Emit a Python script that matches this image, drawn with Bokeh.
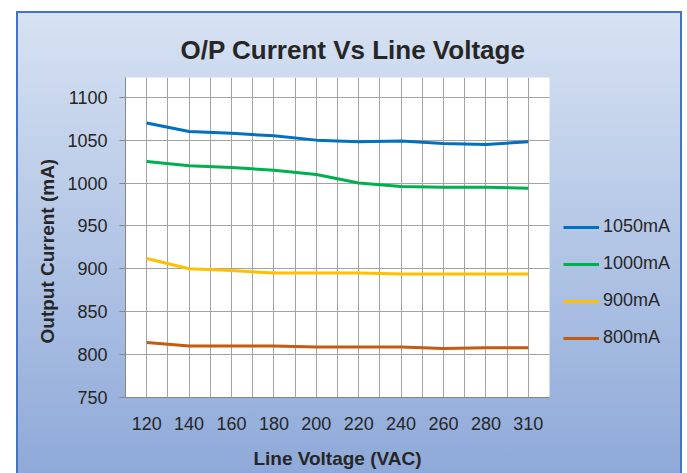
from bokeh.plotting import figure
from bokeh.models import (FactorRange, Range1d, Legend, LegendItem, FixedTicker,
                          Title, InlineStyleSheet)
from bokeh.embed import file_html
from bokeh.resources import INLINE

# ---- data ----
voltages = ["120", "140", "160", "180", "200", "220", "240", "260", "280", "310"]
i_1050 = [1070, 1060, 1058, 1055, 1050, 1048, 1049, 1046, 1045, 1048]
i_1000 = [1025, 1020, 1018, 1015, 1010, 1000, 996, 995, 995, 994]
i_900 = [912, 900, 898, 895, 895, 895, 894, 894, 894, 894]
i_800 = [814, 810, 810, 810, 809, 809, 809, 807, 808, 808]
series_names = ["1050mA", "1000mA", "900mA", "800mA"]
series_values = [i_1050, i_1000, i_900, i_800]
series_colors = ["#0070C0", "#00B050", "#FFC000", "#C55A11"]
y_ticks = [750, 800, 850, 900, 950, 1000, 1050, 1100]

FONT = "Liberation Sans"
TXT = "#262626"

p = figure(frame_width=424, frame_height=320,
           x_range=FactorRange(factors=voltages, range_padding=0),
           y_range=Range1d(750, 1123),
           output_backend="svg", toolbar_location=None,
           min_border_left=125, min_border_right=138,
           min_border_top=77, min_border_bottom=76)
p.border_fill_color = None
p.background_fill_color = "white"
p.outline_line_color = None

# gradient chart area with blue border, drawn as page decoration behind the canvas
css = """
:host {
  background-color: white;
  background-image: linear-gradient(to bottom, #d7e2f2, #8da8d8),
                    linear-gradient(#4472c4, #4472c4);
  background-repeat: no-repeat;
  background-position: 18px 13px, 16px 11px;
  background-size: 662px 470px, 666px 480px;
}
"""
p.stylesheets = [InlineStyleSheet(css=css)]

# ---- grids ----
p.xgrid.ticker = FixedTicker(ticks=[k * 0.5 for k in range(2 * len(voltages) + 1)])
p.ygrid.ticker = FixedTicker(ticks=y_ticks)
for g in (p.xgrid, p.ygrid):
    g.grid_line_color = "#a3a3a3"
    g.grid_line_width = 1

# ---- series ----
items = []
for name, vals, col in zip(series_names, series_values, series_colors):
    r = p.line(x=voltages, y=vals, line_color=col, line_width=3, line_join="round")
    items.append(LegendItem(label=name, renderers=[r]))

legend = Legend(items=items, location="top_left", orientation="vertical",
                background_fill_alpha=0, border_line_color=None,
                padding=0, margin=14, spacing=16,
                glyph_width=36, glyph_height=20, label_height=20, label_standoff=4,
                label_text_font=FONT, label_text_font_size="18px",
                label_text_color=TXT,
                title=" ", title_text_font_size="1px", title_standoff=124)
p.add_layout(legend, "right")

# ---- axes ----
p.yaxis.ticker = FixedTicker(ticks=y_ticks)
for ax in (p.xaxis[0], p.yaxis[0]):
    ax.axis_line_color = "#868686"
    ax.major_tick_line_color = "#868686"
    ax.minor_tick_line_color = None
    ax.major_tick_in = 0
    ax.major_label_text_font = FONT
    ax.major_label_text_font_size = "18px"
    ax.major_label_text_color = TXT
    ax.axis_label_text_font = FONT
    ax.axis_label_text_font_size = "19px"
    ax.axis_label_text_font_style = "bold"
    ax.axis_label_text_color = TXT

p.xaxis.major_tick_line_color = None
p.xaxis.major_tick_out = 0
p.xaxis.major_label_standoff = 19
p.xaxis.axis_label = "Line Voltage (VAC)"
p.xaxis.axis_label_standoff = 15

p.yaxis.major_tick_out = 6
p.yaxis.major_label_standoff = 12

# y axis title (placed lower than centre, as in the reference)
ytitle = Title(text="Output Current (mA)", align="left", offset=54, standoff=14,
               text_font=FONT, text_font_size="19px", text_font_style="bold",
               text_color=TXT)
p.add_layout(ytitle, "left")

# ---- title ----
p.title.text = "O/P Current Vs Line Voltage"
p.title.align = "left"
p.title.offset = 55
p.title.text_font = FONT
p.title.text_font_size = "26px"
p.title.text_font_style = "bold"
p.title.text_color = TXT
p.title.standoff = 25

open("out.html", "w").write(file_html(p, INLINE))
